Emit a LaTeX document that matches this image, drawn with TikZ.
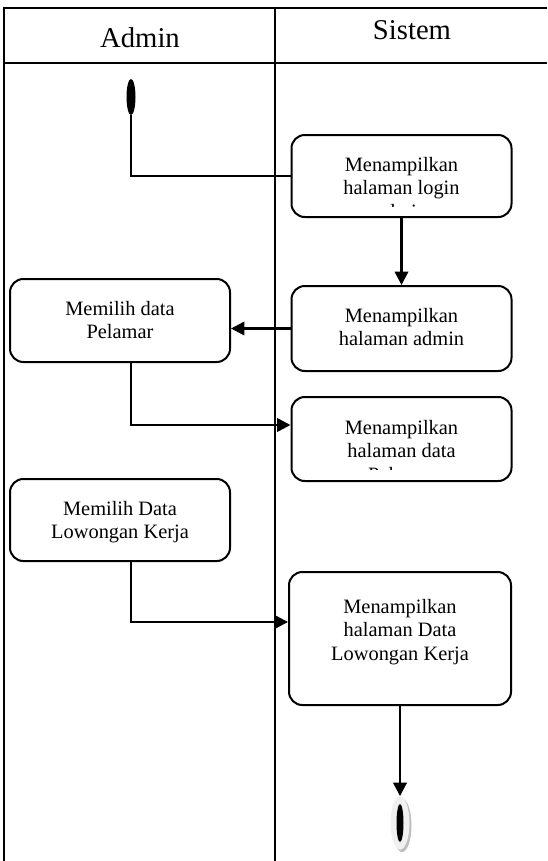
\documentclass[tikz,border=0pt]{standalone}
\usepackage{fontspec}
\setmainfont{Liberation Serif}
\usetikzlibrary{arrows.meta, shapes.geometric, shadows}

\begin{document}
\begin{tikzpicture}[
	x=0.75pt, y=-0.75pt,
	lane/.style={line width=2pt},
	act/.style={
		draw, % General options for all activities
		line width=1.5pt,
		rounded corners=10pt,
		inner sep=0pt,
		minimum width=165pt,
	},
	acttext/.style={anchor=north, inner sep=0pt, align=center, font=\fontsize{15.3}{17.5}\selectfont},
	lanetext/.style={inner sep=0pt, font=\fontsize{21.5}{24}\selectfont},
	flow/.style={line width=1.9pt},
	flowarrow/.style={flow, -{Triangle[length=10pt,width=10pt]}},
	startnode/.style={ellipse, fill=black, inner sep=0pt, minimum width=6.75pt, minimum height=27pt},
	stopnode/.style={ellipse, fill=black!6, inner sep=0pt, minimum width=14.25pt, minimum height=40pt,
		copy shadow={shadow xshift=1.5pt, shadow yshift=-1.8pt, fill=black!25, draw=none}},
	stopcore/.style={ellipse, fill=black, inner sep=0pt, minimum width=5.25pt, minimum height=28.5pt},
	]
	\useasboundingbox (0,0) rectangle (547,861);

	% swimlanes
	\draw[lane] (547,8) -| (4,861);
	\draw[lane] (4,63) -- (547,63);
	\draw[lane] (275,8) -- (275,861);
	\node[lanetext] (admintitle) at (140,38) {Admin};
	\node[lanetext] (sistemtitle) at (412,30) {Sistem};

	% activities
	\node[startnode] (start) at (131,97) {};
	\node[act, minimum height=61.5pt] (login) at (401.5,176) {};
	\node[act, minimum height=63.75pt] (admin) at (401.5,328.5) {};
	\node[act, minimum height=62.25pt] (pelamar) at (120,320.5) {};
	\node[act, minimum height=63pt] (data) at (401.5,439) {};
	\node[act, minimum height=61.5pt] (pilihloker) at (120,520) {};
	\node[act, minimum width=166.5pt, minimum height=99.75pt] (loker) at (400,638.5) {};
	\node[stopnode] (stop) at (400,823) {};
	\node[stopcore] (stopin) at (stop) {};

	% texts
	\begin{scope}
		\clip ([yshift=8.5pt]login.south west) rectangle (login.north east);
		\node[acttext] (logintext) at ([yshift=-17.4pt]login.north) {Menampilkan\\halaman login\\admin};
	\end{scope}
	\node[acttext] (admintext) at ([yshift=-17.4pt]admin.north) {Menampilkan\\halaman admin};
	\node[acttext] (pelamartext) at ([yshift=-17.4pt]pelamar.north) {Memilih data\\Pelamar};
	\begin{scope}
		\clip ([yshift=9.2pt]data.south west) rectangle (data.north east);
		\node[acttext] (datatext) at ([yshift=-18pt]data.north) {Menampilkan\\halaman data\\Pelamar};
	\end{scope}
	\node[acttext] (pilihlokertext) at ([yshift=-17.4pt]pilihloker.north) {Memilih Data\\Lowongan Kerja};
	\node[acttext] (lokertext) at ([yshift=-21pt]loker.north) {Menampilkan\\halaman Data\\Lowongan Kerja};

	% flows
	\draw[flow] (start.south) |- (login.west);
	\draw[flowarrow] (login) -- (admin);
	\draw[flowarrow] (admin.west) -- (admin.west -| pelamar.east);
	\draw[flowarrow] ([xshift=8.25pt]pelamar.south) |- ([yshift=10.5pt]data.west);
	\draw[flowarrow] ([xshift=8.25pt]pilihloker.south) |- ([yshift=12.4pt]loker.west);
	\draw[flowarrow] (loker) -- (stop);

\end{tikzpicture}
\end{document}
